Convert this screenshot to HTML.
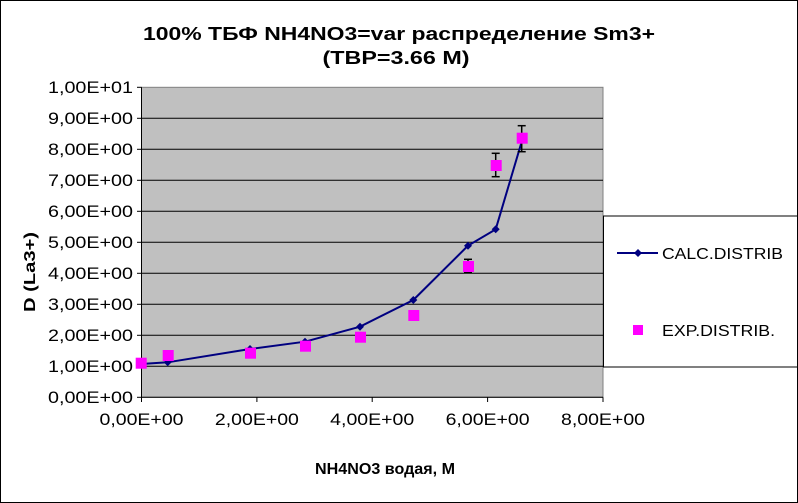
<!DOCTYPE html>
<html><head><meta charset="utf-8"><style>
html,body{margin:0;padding:0;background:#fff}
svg{display:block}
text{font-family:"Liberation Sans",Arial,sans-serif;fill:#000}
</style></head><body>
<svg width="798" height="503" viewBox="0 0 798 503" xmlns="http://www.w3.org/2000/svg">
<rect x="0.5" y="0.5" width="797" height="502" fill="#fff" stroke="#000"/>
<text x="399" y="40" text-anchor="middle" font-size="18" font-weight="bold" textLength="512" lengthAdjust="spacingAndGlyphs">100%  ТБФ  NH4NO3=var распределение Sm3+</text>
<text x="396" y="64" text-anchor="middle" font-size="18" font-weight="bold" textLength="147" lengthAdjust="spacingAndGlyphs">(ТВР=3.66 М)</text>
<rect x="141.5" y="87.3" width="461.5" height="310" fill="#c0c0c0" stroke="#808080" stroke-width="1"/>
<g stroke="#000" stroke-width="1">
<line x1="141.5" y1="118.3" x2="603" y2="118.3"/>
<line x1="141.5" y1="149.3" x2="603" y2="149.3"/>
<line x1="141.5" y1="180.3" x2="603" y2="180.3"/>
<line x1="141.5" y1="211.3" x2="603" y2="211.3"/>
<line x1="141.5" y1="242.3" x2="603" y2="242.3"/>
<line x1="141.5" y1="273.3" x2="603" y2="273.3"/>
<line x1="141.5" y1="304.3" x2="603" y2="304.3"/>
<line x1="141.5" y1="335.3" x2="603" y2="335.3"/>
<line x1="141.5" y1="366.3" x2="603" y2="366.3"/>
<line x1="141.5" y1="87.3" x2="141.5" y2="397.3"/>
<line x1="141.5" y1="397.3" x2="603" y2="397.3"/>
</g>
<g stroke="#000">
<line x1="137" y1="87.3" x2="141.5" y2="87.3"/><line x1="137" y1="118.3" x2="141.5" y2="118.3"/>
<line x1="137" y1="149.3" x2="141.5" y2="149.3"/><line x1="137" y1="180.3" x2="141.5" y2="180.3"/>
<line x1="137" y1="211.3" x2="141.5" y2="211.3"/><line x1="137" y1="242.3" x2="141.5" y2="242.3"/>
<line x1="137" y1="273.3" x2="141.5" y2="273.3"/><line x1="137" y1="304.3" x2="141.5" y2="304.3"/>
<line x1="137" y1="335.3" x2="141.5" y2="335.3"/><line x1="137" y1="366.3" x2="141.5" y2="366.3"/>
<line x1="137" y1="397.3" x2="141.5" y2="397.3"/>
<line x1="141.5" y1="397.3" x2="141.5" y2="402"/><line x1="256.9" y1="397.3" x2="256.9" y2="402"/>
<line x1="372.2" y1="397.3" x2="372.2" y2="402"/><line x1="487.6" y1="397.3" x2="487.6" y2="402"/>
<line x1="603" y1="397.3" x2="603" y2="402"/>
</g>
<g font-size="17" text-anchor="end">
<text x="133" y="93" textLength="85" lengthAdjust="spacingAndGlyphs">1,00E+01</text><text x="133" y="124" textLength="85" lengthAdjust="spacingAndGlyphs">9,00E+00</text>
<text x="133" y="155" textLength="85" lengthAdjust="spacingAndGlyphs">8,00E+00</text><text x="133" y="186" textLength="85" lengthAdjust="spacingAndGlyphs">7,00E+00</text>
<text x="133" y="217" textLength="85" lengthAdjust="spacingAndGlyphs">6,00E+00</text><text x="133" y="248" textLength="85" lengthAdjust="spacingAndGlyphs">5,00E+00</text>
<text x="133" y="279" textLength="85" lengthAdjust="spacingAndGlyphs">4,00E+00</text><text x="133" y="310" textLength="85" lengthAdjust="spacingAndGlyphs">3,00E+00</text>
<text x="133" y="341" textLength="85" lengthAdjust="spacingAndGlyphs">2,00E+00</text><text x="133" y="372" textLength="85" lengthAdjust="spacingAndGlyphs">1,00E+00</text>
<text x="133" y="403" textLength="85" lengthAdjust="spacingAndGlyphs">0,00E+00</text>
</g>
<g font-size="17" text-anchor="middle">
<text x="141.5" y="425" textLength="84" lengthAdjust="spacingAndGlyphs">0,00E+00</text><text x="256.9" y="425" textLength="84" lengthAdjust="spacingAndGlyphs">2,00E+00</text>
<text x="372.2" y="425" textLength="84" lengthAdjust="spacingAndGlyphs">4,00E+00</text><text x="487.6" y="425" textLength="84" lengthAdjust="spacingAndGlyphs">6,00E+00</text>
<text x="603" y="425" textLength="84" lengthAdjust="spacingAndGlyphs">8,00E+00</text>
</g>
<text x="385" y="474" text-anchor="middle" font-size="16" font-weight="bold" textLength="140" lengthAdjust="spacingAndGlyphs">NH4NO3  водая, М</text>
<text transform="translate(35,272) rotate(-90)" text-anchor="middle" font-size="16" font-weight="bold" textLength="80" lengthAdjust="spacingAndGlyphs">D (La3+)</text>
<polyline fill="none" stroke="#000080" stroke-width="2" points="141.3,364 167.7,362.3 250,349 305,341.7 360,326.7 413.3,300 468,245.7 495.7,229.3 521.7,141.7"/>
<g fill="#000080">
<path d="M167.7,358.3l4,4l-4,4l-4,-4z"/><path d="M250,345l4,4l-4,4l-4,-4z"/>
<path d="M305,337.7l4,4l-4,4l-4,-4z"/><path d="M360,322.7l4,4l-4,4l-4,-4z"/>
<path d="M413.3,296l4,4l-4,4l-4,-4z"/><path d="M468,241.7l4,4l-4,4l-4,-4z"/>
<path d="M495.7,225.3l4,4l-4,4l-4,-4z"/>
</g>
<g stroke="#000" stroke-width="1.5">
<line x1="495.7" y1="153.3" x2="495.7" y2="176.7"/><line x1="491.7" y1="153.3" x2="499.7" y2="153.3"/><line x1="491.7" y1="176.7" x2="499.7" y2="176.7"/>
<line x1="521.7" y1="125.7" x2="521.7" y2="151.7"/><line x1="517.7" y1="125.7" x2="525.7" y2="125.7"/><line x1="517.7" y1="151.7" x2="525.7" y2="151.7"/>
<line x1="468" y1="259.3" x2="468" y2="272.3"/><line x1="464" y1="259.3" x2="472" y2="259.3"/><line x1="464" y1="272.3" x2="472" y2="272.3"/>
</g>
<g fill="#ff00ff">
<rect x="135.7" y="357.7" width="11" height="11"/><rect x="162.7" y="350" width="11" height="11"/>
<rect x="245" y="347.7" width="11" height="11"/><rect x="300" y="340.7" width="11" height="11"/>
<rect x="355" y="331.7" width="11" height="11"/><rect x="408.3" y="310" width="11" height="11"/>
<rect x="463" y="261" width="11" height="11"/><rect x="490.7" y="160" width="11" height="11"/>
<rect x="516.7" y="132.7" width="11" height="11"/>
</g>
<rect x="603.5" y="216" width="194" height="151" fill="#fff" stroke="#000"/>
<line x1="617" y1="253" x2="658" y2="253" stroke="#000080" stroke-width="2"/>
<path d="M638,249l4,4l-4,4l-4,-4z" fill="#000080"/>
<text x="662" y="259" font-size="16" textLength="121" lengthAdjust="spacingAndGlyphs">CALC.DISTRIB</text>
<rect x="633" y="325" width="10" height="10" fill="#ff00ff"/>
<text x="662" y="336" font-size="16" textLength="113" lengthAdjust="spacingAndGlyphs">EXP.DISTRIB.</text>
</svg>
</body></html>
